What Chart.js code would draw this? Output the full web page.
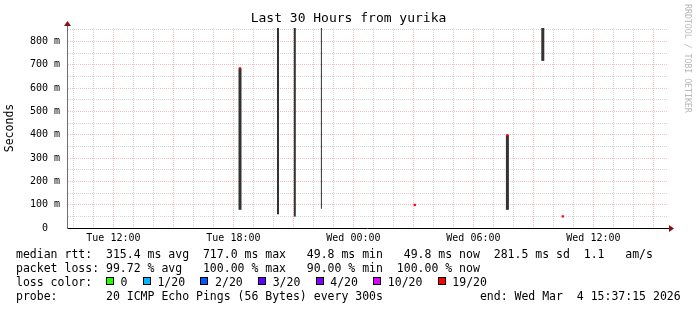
<!DOCTYPE html>
<html>
<head>
<meta charset="utf-8">
<script src="https://cdn.jsdelivr.net/npm/chart.js@4.4.1/dist/chart.umd.min.js"></script>
<style>
    html, body { margin: 0; padding: 0; background: #fff; }
    #wrap { position: relative; width: 697px; height: 310px; font-family: "DejaVu Sans Mono", monospace; }
    #chart { position: absolute; left: 0; top: 0; }
    .line { position: absolute; left: 16px; font-size: 11.5px; line-height: 14px; white-space: pre; color: #000; }
    .sw { display: inline-block; width: 6px; height: 6px; border: 1px solid #000; vertical-align: 1px; margin-right: 6.6px; }
    .lbl { margin-right: 15.3px; }
    #credit { position: absolute; left: 683px; top: 4px; writing-mode: vertical-rl; font-size: 8.4px; color: #b8b8b8; letter-spacing: -0.1px; }
</style>
</head>
<body>
<div id="wrap">
    <canvas id="chart" width="697" height="310"></canvas>
    <div id="credit">RRDTOOL / TOBI OETIKER</div>
    <div class="line" id="l1" style="top:247px"></div>
    <div class="line" id="l2" style="top:261px"></div>
    <div class="line" id="l3" style="top:275px"></div>
    <div class="line" id="l4" style="top:289px"></div>
</div>
<script>
// x values are hours counted from Tue 00:00, y values are seconds
const xMin = 9.68;
const xMax = 39.68;
const yMax = 0.858;

const xTickHours = [12, 18, 24, 30, 36];
const xTickLabels = ["Tue 12:00", "Tue 18:00", "Wed 00:00", "Wed 06:00", "Wed 12:00"];

// smoke (min..max of the replies), grouped by how wide the column is
const smokeWideHours = [18.33, 31.70, 33.47];
const smokeWideLow = [0.078, 0.078, 0.717];
const smokeWideHigh = [0.685, 0.398, 0.900];

const smokeMidHours = [20.23, 21.07];
const smokeMidLow = [0.059, 0.049];
const smokeMidHigh = [0.900, 0.900];

const smokeThinHours = [22.40];
const smokeThinLow = [0.083];
const smokeThinHigh = [0.900];

// median rtt marks, all at 19/20 loss
const medianHours = [18.33, 27.07, 31.70, 34.47];
const medianRtt = [0.685, 0.099, 0.398, 0.0498];

const lossLabels = ["0", "1/20", "2/20", "3/20", "4/20", "10/20", "19/20"];
const lossColors = ["#26ff00", "#00b8ff", "#0059ff", "#5e00ff", "#7e00ff", "#dd00ff", "#ff0000"];

const statsRtt = "median rtt:  315.4 ms avg  717.0 ms max   49.8 ms min   49.8 ms now  281.5 ms sd  1.1   am/s";
const statsLoss = "packet loss: 99.72 % avg   100.00 % max   90.00 % min  100.00 % now";
const probeText = "probe:       20 ICMP Echo Pings (56 Bytes) every 300s              end: Wed Mar  4 15:37:15 2026";

document.getElementById("l1").textContent = statsRtt;
document.getElementById("l2").textContent = statsLoss;
document.getElementById("l4").textContent = probeText;

const l3 = document.getElementById("l3");
l3.appendChild(document.createTextNode("loss color:  "));
lossLabels.forEach(function (lab, i) {
    const box = document.createElement("span");
    box.className = "sw";
    box.style.background = lossColors[i];
    l3.appendChild(box);
    const t = document.createElement("span");
    t.className = "lbl";
    t.textContent = lab;
    l3.appendChild(t);
});

function ranges(hours, low, high) {
    return hours.map((h, i) => ({ x: h, y: [low[i], high[i]] }));
}

const MONO = "'DejaVu Sans Mono', monospace";
const majorGrid = "rgba(235, 90, 90, 0.38)";
const minorGrid = "rgba(150, 150, 150, 0.4)";

const axisArrows = {
    id: "axisArrows",
    afterDraw(chart) {
        const { ctx, chartArea: a } = chart;
        ctx.save();
        ctx.lineWidth = 1;
        ctx.strokeStyle = "#707070";
        ctx.beginPath();
        ctx.moveTo(a.left + 0.5, a.top);
        ctx.lineTo(a.left + 0.5, a.top - 3);
        ctx.stroke();
        ctx.strokeStyle = "#000";
        ctx.beginPath();
        ctx.moveTo(a.right, a.bottom + 0.5);
        ctx.lineTo(a.right + 3, a.bottom + 0.5);
        ctx.stroke();
        ctx.fillStyle = "#8b1010";
        ctx.beginPath();
        ctx.moveTo(a.left + 0.5, a.top - 7);
        ctx.lineTo(a.left - 3, a.top - 2);
        ctx.lineTo(a.left + 4, a.top - 2);
        ctx.closePath();
        ctx.fill();
        ctx.beginPath();
        ctx.moveTo(a.right + 7, a.bottom + 0.5);
        ctx.lineTo(a.right + 2, a.bottom - 3);
        ctx.lineTo(a.right + 2, a.bottom + 4);
        ctx.closePath();
        ctx.fill();
        ctx.restore();
    }
};

Chart.defaults.color = "#000";
Chart.defaults.font.family = MONO;

new Chart(document.getElementById("chart"), {
    type: "bar",
    data: {
        datasets: [
            { type: "bar", data: ranges(smokeWideHours, smokeWideLow, smokeWideHigh), backgroundColor: "#333", maxBarThickness: 3, grouped: false, clip: 0, order: 2 },
            { type: "bar", data: ranges(smokeMidHours, smokeMidLow, smokeMidHigh), backgroundColor: "#333", maxBarThickness: 2, grouped: false, clip: 0, order: 2 },
            { type: "bar", data: ranges(smokeThinHours, smokeThinLow, smokeThinHigh), backgroundColor: "#333", maxBarThickness: 1, grouped: false, clip: 0, order: 2 },
            {
                type: "scatter",
                data: medianHours.map((h, i) => ({ x: h, y: medianRtt[i] })),
                pointStyle: "rect",
                pointRadius: 1.6,
                backgroundColor: "#ff0000",
                borderWidth: 0,
                order: 1
            }
        ]
    },
    options: {
        responsive: false,
        animation: false,
        devicePixelRatio: 1,
        events: [],
        layout: { padding: { bottom: 62 } },
        plugins: {
            legend: { display: false },
            tooltip: { enabled: false },
            title: {
                display: true,
                text: "Last 30 Hours from yurika",
                font: { family: MONO, size: 13, weight: "normal" },
                color: "#000",
                padding: { top: 11, bottom: 1.4 }
            }
        },
        scales: {
            x: {
                type: "linear",
                min: xMin,
                max: xMax,
                offset: false,
                afterBuildTicks: function (scale) {
                    const t = [];
                    for (let h = 10; h <= 39; h++) t.push({ value: h });
                    scale.ticks = t;
                },
                afterFit: function (scale) { scale.height = 20; },
                ticks: {
                    autoSkip: false,
                    maxRotation: 0,
                    padding: 4,
                    font: { family: MONO, size: 10 },
                    callback: function (v) {
                        const i = xTickHours.indexOf(Math.round(v));
                        return i >= 0 ? xTickLabels[i] : "";
                    }
                },
                grid: {
                    offset: false,
                    drawTicks: false,
                    color: c => (c.tick && Math.round(c.tick.value) % 3 === 0) ? majorGrid : minorGrid
                },
                border: { color: "#000", dash: [1, 1] }
            },
            y: {
                min: 0,
                max: yMax,
                afterBuildTicks: function (scale) {
                    const t = [];
                    for (let i = 0; i <= 17; i++) t.push({ value: i * 0.05 });
                    scale.ticks = t;
                },
                afterFit: function (scale) { scale.width = 67; },
                title: {
                    display: true,
                    text: "Seconds",
                    font: { family: MONO, size: 11.5 },
                    color: "#000",
                    padding: { top: 3, bottom: 0 }
                },
                ticks: {
                    autoSkip: false,
                    padding: 7,
                    font: { family: MONO, size: 10 },
                    callback: function (v) {
                        const ms = Math.round(v * 1000);
                        if (ms % 100 !== 0) return "";
                        return ms === 0 ? "0  " : ms + " m";
                    }
                },
                grid: {
                    drawTicks: false,
                    color: c => (c.tick && Math.round(c.tick.value * 1000) % 100 === 0) ? majorGrid : minorGrid
                },
                border: { color: "#707070", dash: [1, 1] }
            },
            y2: {
                position: "right",
                display: true,
                grid: { display: false },
                ticks: { display: false },
                border: { display: false },
                afterFit: function (scale) { scale.width = 30; }
            }
        }
    },
    plugins: [axisArrows]
});
</script>
</body>
</html>
